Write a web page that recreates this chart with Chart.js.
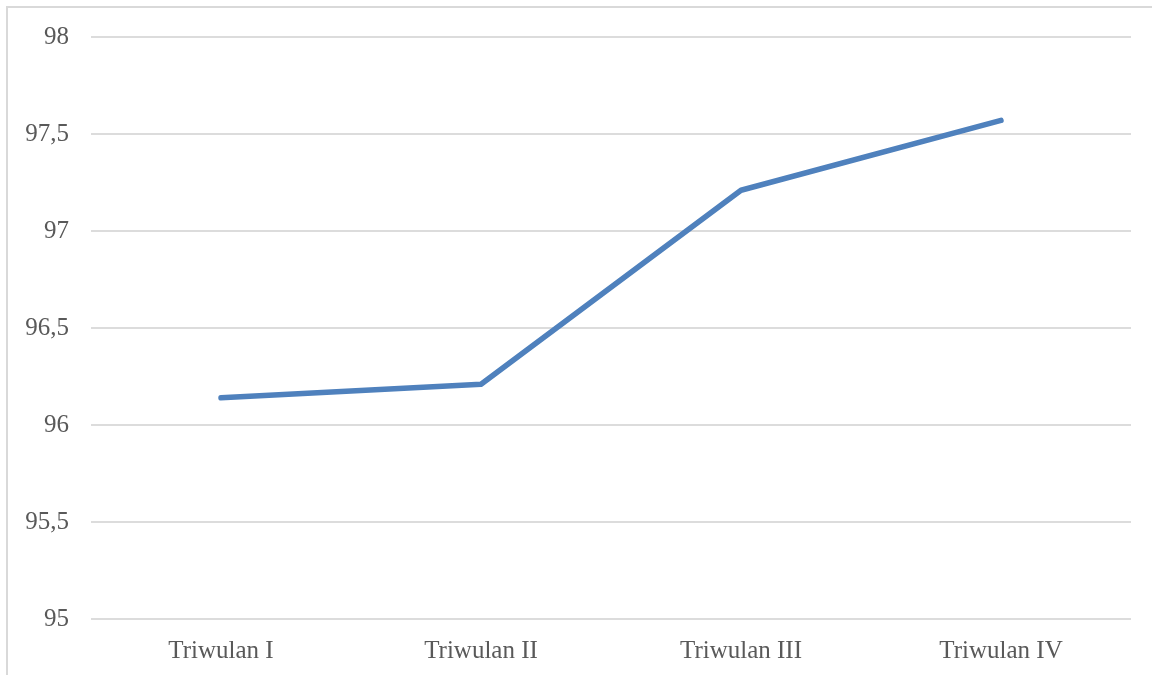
<!DOCTYPE html>
<html>
<head>
<meta charset="utf-8">
<script src="https://cdn.jsdelivr.net/npm/chart.js@4"></script>
<style>
html,body{margin:0;padding:0;background:#fff;overflow:hidden;}
#wrap{position:relative;width:1152px;height:675px;}
#frame{position:absolute;left:6px;top:6px;width:2000px;height:2000px;border:2px solid #d9d9d9;box-sizing:border-box;}
canvas{position:absolute;left:0;top:0;}
</style>
</head>
<body>
<div id="wrap">
<div id="frame"></div>
<canvas id="c" width="1152" height="675"></canvas>
</div>
<script>
const categories = ["Triwulan I", "Triwulan II", "Triwulan III", "Triwulan IV"];
const values = [96.14, 96.21, 97.21, 97.57];
const yMin = 95, yMax = 98, yStep = 0.5;

const FONT = "'Liberation Serif', serif";
new Chart(document.getElementById('c'), {
  type: 'line',
  data: {
    labels: categories,
    datasets: [{
      data: values,
      borderColor: '#4F81BD',
      borderWidth: 5.5,
      borderCapStyle: 'round',
      borderJoinStyle: 'round',
      pointRadius: 0,
      tension: 0,
      fill: false
    }]
  },
  options: {
    responsive: false,
    animation: false,
    layout: { padding: { top: 36, right: 21, left: 0, bottom: 0 } },
    plugins: { legend: { display: false }, tooltip: { enabled: false } },
    scales: {
      x: {
        offset: true,
        grid: { display: false, drawTicks: false },
        border: { display: false },
        ticks: { color: '#595959', font: { family: FONT, size: 25 }, padding: 17, maxRotation: 0 },
        afterFit: s => { s.height = 56; }
      },
      y: {
        min: yMin, max: yMax,
        grid: { color: '#dcdcdc', lineWidth: 2, drawTicks: false },
        border: { display: false },
        ticks: {
          stepSize: yStep,
          color: '#595959',
          font: { family: FONT, size: 25 },
          padding: 22,
          callback: v => String(v).replace('.', ',')
        },
        afterFit: s => { s.width = 91; }
      }
    }
  }
});
</script>
</body>
</html>
